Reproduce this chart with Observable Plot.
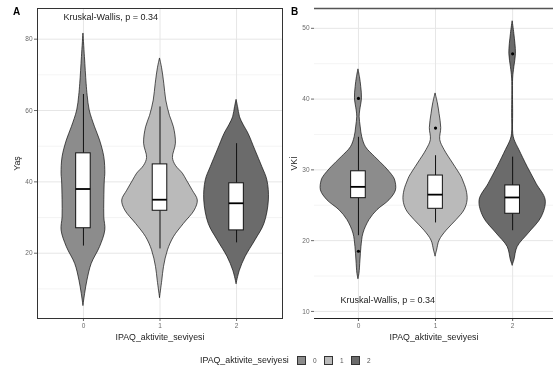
<!DOCTYPE html>
<html>
<head>
<meta charset="utf-8">
<script src="https://cdn.jsdelivr.net/npm/d3@7"></script>
<script src="https://cdn.jsdelivr.net/npm/@observablehq/plot@0.6"></script>
<style>
  html, body { margin: 0; padding: 0; background: #fff; }
  #wrap { position: relative; width: 553px; height: 376px; overflow: hidden; font-family: "Liberation Sans", Arial, sans-serif; filter: grayscale(100%); background: #fff; }
  .panel { position: absolute; top: 0; }
  .tag { position: absolute; font-weight: bold; font-size: 10px; color: #000; }
  #legend { position: absolute; top: 355px; left: 0; width: 553px; height: 14px; font-size: 8.8px; color: #222; }
  #legend span { position: absolute; }
  .sw { width: 9px; height: 9px; border: 0.8px solid #333; box-sizing: border-box; }
</style>
</head>
<body>
<div id="wrap"></div>
<script>
// ---------- data ----------
const groups = [0, 1, 2];
const groupColors = ["#8c8c8c", "#bababa", "#6b6b6b"];
const legendTitle = "IPAQ_aktivite_seviyesi";
const xTitle = "IPAQ_aktivite_seviyesi";
const kwText = "Kruskal-Wallis, p = 0.34";

// Panel A: Yaş — violin outline [value, density]
const yasViolin0 = [[5.3,0],[8.6,1.7],[12.3,4],[17,8.3],[21.7,16.7],[26.4,22],[30,21],[35,21],[40.4,21.5],[42.3,22],[46.9,21],[51.6,16.7],[55.3,11.7],[60,6.3],[64,4.3],[67.5,3.2],[75,1.5],[81.6,0]];
const yasViolin1 = [[7.5,0],[12.3,2.3],[16.1,4],[20.8,8],[24.5,14],[28.2,24],[32,35],[34.8,38],[37.5,33],[40.4,27],[42.3,23],[44.5,16],[46.7,13],[50.7,16],[55.3,14],[58.5,10],[62.8,6.3],[67.5,4.3],[72,2],[74.6,0]];
const yasViolin2 = [[11.4,0],[15.1,3.3],[18.9,9],[23.6,19],[28.2,28],[34.8,32.5],[40.4,31],[44.1,26],[48.8,19],[53.5,12],[56,7],[58.1,3.5],[61,1.5],[63,0]];
// box stats: [low whisker, q1, median, q3, high whisker]
const yasBox0 = [22, 27, 38, 48, 64.5];
const yasBox1 = [21.2, 31.9, 35, 44.9, 61];
const yasBox2 = [22.9, 26.4, 34, 39.6, 50.7];
const yasOutliers = [];
const yasTicks = [20, 40, 60, 80];
const yasMinor = [10, 30, 50, 70];
const yasDomain = [1.7, 88.6];

// Panel B: VKİ
const vkiViolin0 = [[14.6,0],[15.3,1],[17.2,2],[19.1,3],[21,5],[22.9,11],[24.3,19],[25.7,31],[27.1,37.5],[28.5,36.7],[29,35],[30.4,26.7],[31.8,16.7],[33.2,7.5],[34.6,3.8],[36,2.3],[37.5,1.2],[38.4,1.8],[40.1,3.5],[41.7,2.8],[43.1,1.5],[44.2,0]];
const vkiViolin1 = [[17.8,0],[18.6,1.5],[20,4],[21.4,11],[22.9,21],[24.3,29],[25.7,32],[27.1,31],[28.5,27.5],[29,26],[30.9,17.5],[32.8,9],[34.2,4.7],[35.9,5.7],[37.9,4],[39.4,2.3],[40.8,0]];
const vkiViolin2 = [[16.5,0],[17.2,1.7],[19.1,5],[21,16],[23.3,29],[25.7,33],[28,24],[30.4,15],[32.8,6.7],[34.2,2],[35.1,0.6],[38,0.5],[42.9,0.5],[44.5,1.7],[46.4,3.3],[49.2,1.7],[51,0]];
const vkiBox0 = [20.7, 26, 27.6, 29.8, 34.6];
const vkiBox1 = [22.5, 24.5, 26.5, 29.2, 32];
const vkiBox2 = [21.4, 23.8, 26.1, 27.8, 31.8];
const vkiOutliers = [[0, 40.1], [0, 18.5], [1, 35.9], [2, 46.4]];
const vkiTicks = [10, 20, 30, 40, 50];
const vkiMinor = [15, 25, 35, 45];
const vkiDomain = [9.0, 52.8];

// ---------- build ----------
const densityToUnits = 1 / 77;
const boxHalf = 0.095;
const font = "Liberation Sans, Arial, sans-serif";

function violinRows(list) {
  return list.flatMap((pts, i) => pts.map(([v, d]) => ({g: groups[i], v, d})));
}
function boxRows(list) {
  return list.map((b, i) => ({g: groups[i], lo: b[0], q1: b[1], med: b[2], q3: b[3], hi: b[4]}));
}

function panel({violins, boxes, outliers, ticks, minor, domain, xDomain, width, marginLeft, marginRight, yLabel, fullFrame, kwAnchor, kwDy}) {
  const vr = violinRows(violins);
  const br = boxRows(boxes);
  const orow = outliers.map(([g, v]) => ({g, v}));
  const marks = [
    Plot.gridY(minor, {stroke: "#ececec", strokeOpacity: 1, strokeWidth: 0.6}),
    Plot.gridY(ticks, {stroke: "#e6e6e6", strokeOpacity: 1, strokeWidth: 1}),
    Plot.gridX(groups, {stroke: "#e6e6e6", strokeOpacity: 1, strokeWidth: 1}),
    Plot.areaX(vr, {
      y: "v",
      x1: r => r.g - r.d * densityToUnits,
      x2: r => r.g + r.d * densityToUnits,
      z: "g", fill: "g", stroke: "#111", strokeWidth: 0.7, curve: "catmull-rom"
    }),
    Plot.ruleX(br, {x: "g", y1: "lo", y2: "q1", stroke: "#111", strokeWidth: 1}),
    Plot.ruleX(br, {x: "g", y1: "q3", y2: "hi", stroke: "#111", strokeWidth: 1}),
    Plot.rect(br, {x1: d => d.g - boxHalf, x2: d => d.g + boxHalf, y1: "q1", y2: "q3", fill: "white", stroke: "#111", strokeWidth: 1}),
    Plot.ruleY(br, {y: "med", x1: d => d.g - boxHalf, x2: d => d.g + boxHalf, stroke: "#000", strokeWidth: 1.8}),
    Plot.dot(orow, {x: "g", y: "v", r: 1.6, fill: "#000", stroke: null}),
    Plot.axisY({ticks, tickSize: 3, tickPadding: 2, fontSize: 6.5, color: "#6a6a6a", label: null}),
    Plot.axisX({ticks: groups, tickFormat: d => String(d), tickSize: 3, tickPadding: 2, fontSize: 6.5, color: "#6a6a6a", label: null}),
    Plot.text([yLabel], {frameAnchor: "left", rotate: -90, dx: -20, fontSize: 8.8, fill: "#222", textAnchor: "middle", lineAnchor: "middle"}),
    Plot.text([xTitle], {frameAnchor: "bottom", dy: 19, fontSize: 8.8, fill: "#222", textAnchor: "middle", lineAnchor: "middle"}),
    Plot.text([kwText], {frameAnchor: kwAnchor, dx: 26, dy: kwDy, fontSize: 9, fill: "#222", textAnchor: "start", lineAnchor: "middle"})
  ];
  if (fullFrame) {
    marks.push(Plot.frame({stroke: "#333", strokeWidth: 1}));
  } else {
    marks.push(Plot.ruleY([domain[1]], {stroke: "#555", strokeWidth: 1.4}));
    marks.push(Plot.ruleY([domain[0]], {stroke: "#222", strokeWidth: 1}));
  }
  return Plot.plot({
    width, height: 345,
    marginLeft, marginRight, marginTop: 8, marginBottom: 27,
    style: {fontFamily: font, background: "transparent", overflow: "visible"},
    x: {domain: xDomain, axis: null},
    y: {domain, axis: null},
    color: {type: "ordinal", domain: groups, range: groupColors},
    marks
  });
}

const wrap = document.getElementById("wrap");

const pA = panel({
  violins: [yasViolin0, yasViolin1, yasViolin2],
  boxes: [yasBox0, yasBox1, yasBox2],
  outliers: yasOutliers, ticks: yasTicks, minor: yasMinor, domain: yasDomain,
  xDomain: [-0.6, 2.6], width: 290, marginLeft: 37, marginRight: 8,
  yLabel: "Yaş", fullFrame: true, kwAnchor: "top-left", kwDy: 9
});
const dA = document.createElement("div"); dA.className = "panel"; dA.style.left = "0px"; dA.appendChild(pA); wrap.appendChild(dA);

const pB = panel({
  violins: [vkiViolin0, vkiViolin1, vkiViolin2],
  boxes: [vkiBox0, vkiBox1, vkiBox2],
  outliers: vkiOutliers, ticks: vkiTicks, minor: vkiMinor, domain: vkiDomain,
  xDomain: [-0.57, 2.53], width: 277, marginLeft: 38, marginRight: 0,
  yLabel: "VKİ", fullFrame: false, kwAnchor: "bottom-left", kwDy: -18
});
const dB = document.createElement("div"); dB.className = "panel"; dB.style.left = "276px"; dB.appendChild(pB); wrap.appendChild(dB);

// panel tags
[["A", 13], ["B", 291]].forEach(([t, x]) => {
  const s = document.createElement("div"); s.className = "tag"; s.textContent = t;
  s.style.left = x + "px"; s.style.top = "6px"; wrap.appendChild(s);
});

// legend
const lg = document.createElement("div"); lg.id = "legend";
const lt = document.createElement("span"); lt.textContent = legendTitle; lt.style.left = "200px"; lt.style.top = "0px"; lg.appendChild(lt);
groups.forEach((g, i) => {
  const sw = document.createElement("span"); sw.className = "sw";
  sw.style.left = (297 + i * 27) + "px"; sw.style.top = "1px"; sw.style.background = groupColors[i];
  lg.appendChild(sw);
  const lab = document.createElement("span"); lab.textContent = String(g);
  lab.style.left = (313 + i * 27) + "px"; lab.style.top = "2px"; lab.style.fontSize = "6.5px"; lab.style.color = "#555";
  lg.appendChild(lab);
});
wrap.appendChild(lg);
</script>
</body>
</html>
